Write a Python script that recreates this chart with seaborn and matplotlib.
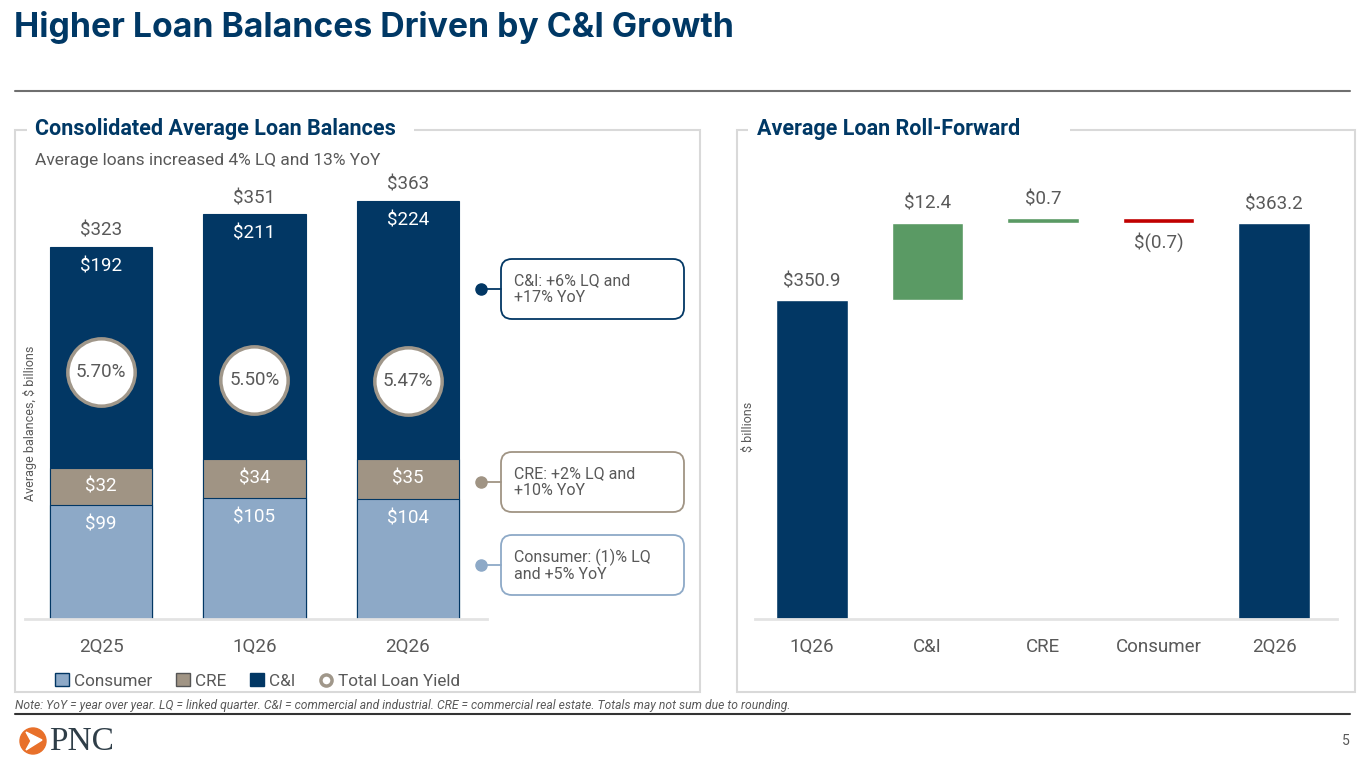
import matplotlib
matplotlib.use("Agg")
import matplotlib.pyplot as plt
import seaborn as sns
from matplotlib.patches import Rectangle, FancyBboxPatch, Circle, Polygon, Patch
from matplotlib.lines import Line2D

# ----------------------------------------
# Data
# ----------------------------------------
quarters = ["2Q25", "1Q26", "2Q26"]
consumer = [99, 105, 104]
cre = [32, 34, 35]
cni = [192, 211, 224]
totals = [323, 351, 363]
loan_yield = [5.70, 5.50, 5.47]

steps = ["1Q26", "C&I", "CRE", "Consumer", "2Q26"]
step_values = [350.9, 12.4, 0.7, -0.7, 363.2]
step_labels = ["$350.9", "$12.4", "$0.7", "$(0.7)", "$363.2"]

callout_texts = ["C&I: +6% LQ and\n+17% YoY",
                 "CRE: +2% LQ and\n+10% YoY",
                 "Consumer: (1)% LQ\nand +5% YoY"]

NAVY = "#023764"
TITLE_NAVY = "#003865"
TAUPE = "#A09484"
LIGHT_BLUE = "#8DA9C7"
GREEN = "#5A9A64"
RED = "#C00000"
GRAY_TXT = "#595959"
FRAME = "#D9D9D9"

sns.set_style("white")
plt.rcParams["font.family"] = ["Roboto", "DejaVu Sans"]

W, H = 1365, 768
fig = plt.figure(figsize=(W / 100, H / 100), dpi=100)


def fx(px):
    return px / W


def fy(py):
    return 1 - py / H


# ----------------------------------------
# Header, frames, footer
# ----------------------------------------
fig.text(fx(14), fy(28), "Higher Loan Balances Driven by C&I Growth", fontsize=24.3,
         fontweight="bold", family=["Inter", "DejaVu Sans"], color=TITLE_NAVY,
         va="center", ha="left")
fig.add_artist(Line2D([fx(15), fx(1350)], [fy(91), fy(91)], color="#6f6f6f", lw=1.5))

fig.add_artist(Rectangle((fx(15), fy(692)), fx(700) - fx(15), fy(130) - fy(692),
                         fill=False, edgecolor=FRAME, lw=1.5, zorder=0))
fig.add_artist(Rectangle((fx(737), fy(692)), fx(1355) - fx(737), fy(130) - fy(692),
                         fill=False, edgecolor=FRAME, lw=1.5, zorder=0))
fig.add_artist(Rectangle((fx(27), fy(140)), fx(414) - fx(27), fy(120) - fy(140),
                         facecolor="white", edgecolor="none", zorder=1))
fig.add_artist(Rectangle((fx(748), fy(140)), fx(1070) - fx(748), fy(120) - fy(140),
                         facecolor="white", edgecolor="none", zorder=1))
fig.text(fx(35), fy(129), "Consolidated Average Loan Balances", fontsize=15.5,
         fontweight="bold", color=TITLE_NAVY, va="center", zorder=2)
fig.text(fx(757), fy(129), "Average Loan Roll-Forward", fontsize=15.5,
         fontweight="bold", color=TITLE_NAVY, va="center", zorder=2)
fig.text(fx(35), fy(160), "Average loans increased 4% LQ and 13% YoY", fontsize=12.5,
         color=GRAY_TXT, va="center")

fig.text(fx(15), fy(705), "Note: YoY = year over year. LQ = linked quarter. C&I = commercial and "
         "industrial. CRE = commercial real estate. Totals may not sum due to rounding.",
         fontsize=8.7, style="italic", color=GRAY_TXT, va="center")
fig.add_artist(Line2D([fx(15), fx(1350)], [fy(714), fy(714)], color="#333333", lw=1.5))
fig.text(fx(1350), fy(741), "5", fontsize=10, color=GRAY_TXT, ha="right", va="center")

# PNC logo
logo = fig.add_axes([fx(15), fy(759), fx(36), 36 / H])
logo.set_xlim(-18, 18)
logo.set_ylim(-18, 18)
logo.axis("off")
logo.add_patch(Circle((0, 0), 13, color="#E8702A"))
logo.add_patch(Polygon([(-7, 9), (9, 1), (-7, -9), (-2, 0)], closed=True, color="white"))
fig.text(fx(49), fy(742), "PNC", fontsize=24, family="Liberation Serif",
         color="#2F3E48", va="center", ha="left")

# ----------------------------------------
# Left: stacked average loan balances
# ----------------------------------------
ax = fig.add_axes([fx(25), fy(619), fx(487) - fx(25), (619 - 158) / H])
cre_top = [c + r for c, r in zip(consumer, cre)]
sns.barplot(x=quarters, y=totals, color=NAVY, width=0.67, saturation=1,
            edgecolor=NAVY, linewidth=0.8, ax=ax)
sns.barplot(x=quarters, y=cre_top, color=TAUPE, width=0.67, saturation=1,
            edgecolor=NAVY, linewidth=0.8, ax=ax)
sns.barplot(x=quarters, y=consumer, color=LIGHT_BLUE, width=0.67, saturation=1,
            edgecolor=NAVY, linewidth=0.8, ax=ax)
ax.set_ylim(0, 400)
ax.set_xlim(-0.495, 2.515)
ax.set_ylabel("")
ax.set_yticks([])
for s in ["top", "right", "left"]:
    ax.spines[s].set_visible(False)
ax.spines["bottom"].set_color("#E3E3E3")
ax.spines["bottom"].set_linewidth(2)
ax.tick_params(axis="x", length=0, pad=14, labelsize=13.5, labelcolor=GRAY_TXT)

for i in range(len(quarters)):
    ax.annotate(f"${totals[i]}", (i, totals[i]), xytext=(0, 5), textcoords="offset points",
                ha="center", va="bottom", fontsize=13.5, color=GRAY_TXT)
    ax.annotate(f"${cni[i]}", (i, totals[i]), xytext=(0, -14), textcoords="offset points",
                ha="center", va="center", fontsize=13.5, color="white")
    ax.text(i, consumer[i] + cre[i] / 2, f"${cre[i]}", ha="center", va="center",
            fontsize=13.5, color="white")
    ax.annotate(f"${consumer[i]}", (i, consumer[i]), xytext=(0, -14), textcoords="offset points",
                ha="center", va="center", fontsize=13.5, color="white")

# yield circles on a twin axis
ax2 = ax.twinx()
ax2.set_ylim(-0.475, 11.05)
ax2.axis("off")
ax2.scatter(range(len(quarters)), loan_yield, s=2350, facecolor="white",
            edgecolor="#A0978A", linewidth=2.5, zorder=5)
for i, v in enumerate(loan_yield):
    ax2.text(i, v, f"{v:.2f}%", ha="center", va="center", fontsize=13.5,
             color=GRAY_TXT, zorder=6)

fig.text(fx(30), fy(423), "Average balances, $ billions", rotation=90, fontsize=9,
         color=GRAY_TXT, ha="center", va="center")

# callouts
callout_colors = [NAVY, TAUPE, LIGHT_BLUE]
callout_y = [289, 482, 565]
for txt, col, cy in zip(callout_texts, callout_colors, callout_y):
    fig.add_artist(FancyBboxPatch((fx(501), fy(cy + 30)), fx(183), 60 / H,
                                  boxstyle="round,pad=0,rounding_size=0.008",
                                  facecolor="white", edgecolor=col, lw=1.3,
                                  mutation_aspect=W / H))
    fig.add_artist(Line2D([fx(481), fx(501)], [fy(cy), fy(cy)], color=col, lw=1.3))
    fig.add_artist(Line2D([fx(481)], [fy(cy)], marker="o", ms=8, color=col))
    fig.text(fx(514), fy(cy), txt, fontsize=11.5, color=GRAY_TXT, va="center",
             ha="left", linespacing=1.1)

# legend
handles = [Patch(facecolor=LIGHT_BLUE, edgecolor=NAVY, label="Consumer"),
           Patch(facecolor=TAUPE, edgecolor="#555555", label="CRE"),
           Patch(facecolor=NAVY, edgecolor=NAVY, label="C&I"),
           Line2D([], [], marker="o", ls="", mfc="white", mec="#A0978A", mew=2.5,
                  ms=8, label="Total Loan Yield")]
fig.legend(handles=handles, loc="center left", bbox_to_anchor=(fx(40), fy(681)),
           ncol=4, frameon=False, fontsize=12.3, handlelength=0.8, handleheight=0.8,
           handletextpad=0.3, columnspacing=1.4, labelcolor=GRAY_TXT)

# ----------------------------------------
# Right: roll-forward waterfall
# ----------------------------------------
axr = fig.add_axes([fx(755), fy(619), fx(1337) - fx(755), (619 - 158) / H])
base = 300
bottoms, heights, colors = [], [], []
running = step_values[0]
for i, v in enumerate(step_values):
    if i == 0 or i == len(step_values) - 1:
        bottoms.append(base)
        heights.append(v - base)
        colors.append(NAVY)
    else:
        bottoms.append(running if v >= 0 else running + v)
        heights.append(abs(v))
        colors.append(GREEN if v >= 0 else RED)
        running += v
    if i == 0:
        running = v
axr.bar(range(len(steps)), heights, bottom=bottoms, width=0.62, color=colors)
axr.set_xticks(range(len(steps)))
axr.set_xticklabels(steps)
axr.set_ylim(base, 373.6)
axr.set_xlim(-0.494, 4.545)
axr.set_yticks([])
for s in ["top", "right", "left"]:
    axr.spines[s].set_visible(False)
axr.spines["bottom"].set_color("#E3E3E3")
axr.spines["bottom"].set_linewidth(2)
axr.tick_params(axis="x", length=0, pad=14, labelsize=13.5, labelcolor=GRAY_TXT)

for i, (b, h, v, lab) in enumerate(zip(bottoms, heights, step_values, step_labels)):
    if v >= 0:
        axr.annotate(lab, (i, b + h), xytext=(0, 7), textcoords="offset points",
                     ha="center", va="bottom", fontsize=13.5, color=GRAY_TXT)
    else:
        axr.annotate(lab, (i, b), xytext=(0, -7), textcoords="offset points",
                     ha="center", va="top", fontsize=13.5, color=GRAY_TXT)

fig.text(fx(748), fy(427), "$ billions", rotation=90, fontsize=9, color=GRAY_TXT,
         ha="center", va="center")

fig.savefig("out.png", dpi=100)
